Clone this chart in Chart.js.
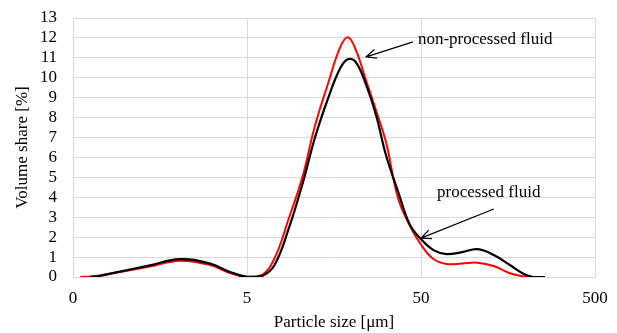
<!DOCTYPE html>
<html>
<head>
<meta charset="utf-8">
<script src="https://cdn.jsdelivr.net/npm/chart.js@4/dist/chart.umd.min.js"></script>
<style>
  html, body { margin: 0; padding: 0; background: #fff; }
  #wrap { width: 617px; height: 333px; }
</style>
</head>
<body>
<div id="wrap"><canvas id="chart" width="617" height="333"></canvas></div>
<script>
// particle sizes [µm]
const sizes = [0.55, 0.63, 0.71, 0.93, 1.38, 2.06, 3.07, 4.0, 5.0, 6.1, 7.2, 8.7, 10.4, 12.3, 14.6, 17.1,
  19.0, 21.1, 24.2, 27.6, 31.5, 36.9, 43, 50, 59, 70, 86, 106, 131, 162, 195, 220, 258];

// volume share [%]
const nonProcessed = [0, 0.03, 0.08, 0.25, 0.52, 0.82, 0.6, 0.2, 0.0, 0.1, 0.94, 2.95, 5.0, 7.6, 9.7, 11.5,
  12.03, 11.4, 9.85, 8.35, 6.75, 3.95, 2.6, 1.62, 0.9, 0.65, 0.68, 0.72, 0.55, 0.19, 0.03, 0, null];
const processed = [null, 0, 0.05, 0.27, 0.58, 0.9, 0.67, 0.25, 0.01, 0.05, 0.6, 2.45, 4.65, 7.0, 8.95, 10.45,
  10.93, 10.78, 9.64, 8.12, 6.1, 4.3, 2.65, 1.9, 1.35, 1.15, 1.25, 1.4, 1.1, 0.6, 0.15, 0, 0];

const xTickValues = [0.5, 5, 50, 500];
const xTickLabels = ['0', '5', '50', '500'];

// annotation anchors in data units
const notes = [
  { text: 'non-processed fluid', tip: [24.2, 11.05], tail: [45, 11.8], label: [48, 11.9] },
  { text: 'processed fluid', tip: [50, 1.95], tail: [131, 3.41], label: [61.8, 4.22] }
];

const serif = "'Liberation Serif', 'Times New Roman', serif";
const tickFont = { family: serif, size: 17 };

const toPoints = vals => sizes.map((s, i) => ({ x: s, y: vals[i] }));

const notesPlugin = {
  id: 'notes',
  afterDatasetsDraw(chart) {
    const { ctx, scales: { x, y } } = chart;
    ctx.save();
    ctx.strokeStyle = '#000';
    ctx.fillStyle = '#000';
    ctx.lineWidth = 1.2;
    ctx.font = '17px ' + serif;
    ctx.textBaseline = 'middle';
    ctx.textAlign = 'left';
    notes.forEach(n => {
      const tx = x.getPixelForValue(n.tip[0]), ty = y.getPixelForValue(n.tip[1]);
      const sx = x.getPixelForValue(n.tail[0]), sy = y.getPixelForValue(n.tail[1]);
      ctx.beginPath();
      ctx.moveTo(sx, sy);
      ctx.lineTo(tx, ty);
      const a = Math.atan2(ty - sy, tx - sx);
      const len = 11, spread = 0.42;
      ctx.moveTo(tx - len * Math.cos(a - spread), ty - len * Math.sin(a - spread));
      ctx.lineTo(tx, ty);
      ctx.lineTo(tx - len * Math.cos(a + spread), ty - len * Math.sin(a + spread));
      ctx.stroke();
      ctx.fillText(n.text, x.getPixelForValue(n.label[0]), y.getPixelForValue(n.label[1]));
    });
    ctx.restore();
  }
};

new Chart(document.getElementById('chart').getContext('2d'), {
  type: 'line',
  data: {
    datasets: [
      {
        label: 'processed fluid',
        data: toPoints(processed),
        borderColor: '#000000',
        borderWidth: 2.2,
        pointRadius: 0,
        tension: 0.4,
        fill: false
      },
      {
        label: 'non-processed fluid',
        data: toPoints(nonProcessed),
        borderColor: '#ff0000',
        borderWidth: 2,
        pointRadius: 0,
        tension: 0.4,
        fill: false
      }
    ]
  },
  options: {
    responsive: false,
    animation: false,
    layout: { padding: { top: 18, right: 22, left: 0, bottom: 0 } },
    plugins: { legend: { display: false }, tooltip: { enabled: false } },
    scales: {
      x: {
        type: 'logarithmic',
        min: 0.5,
        max: 500,
        afterBuildTicks: s => { s.ticks = xTickValues.map(v => ({ value: v })); },
        afterFit: s => { s.height = 56; s.paddingLeft = 0; s.paddingRight = 0; },
        grid: { color: '#d9d9d9', drawTicks: false },
        border: { color: '#d9d9d9' },
        ticks: {
          autoSkip: false, maxRotation: 0, padding: 11, color: '#000', font: tickFont,
          callback: (v, i) => xTickLabels[i]
        },
        title: { display: true, text: 'Particle size [μm]', color: '#000', font: tickFont, padding: { top: 3, bottom: 0 } }
      },
      y: {
        min: 0,
        max: 13,
        afterFit: s => { s.width = 73; s.paddingTop = 0; s.paddingBottom = 0; },
        grid: { color: '#d9d9d9', drawTicks: false },
        border: { color: '#d9d9d9' },
        ticks: { stepSize: 1, autoSkip: false, padding: 16, color: '#000', font: tickFont },
        title: { display: true, text: 'Volume share [%]', color: '#000', font: tickFont, padding: { top: 12, bottom: 0 } }
      }
    }
  },
  plugins: [notesPlugin]
});
</script>
</body>
</html>
